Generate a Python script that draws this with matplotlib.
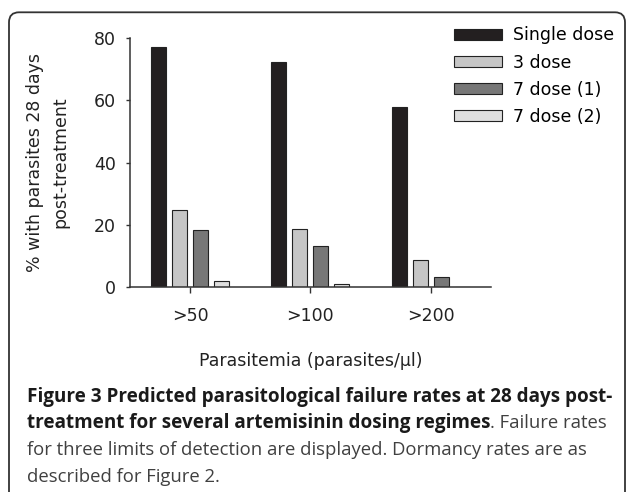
import matplotlib
matplotlib.use("Agg")
import matplotlib.pyplot as plt
import numpy as np
from matplotlib.patches import FancyBboxPatch
from matplotlib.transforms import IdentityTransform

# data
categories = [">50", ">100", ">200"]
series_names = ["Single dose", "3 dose", "7 dose (1)", "7 dose (2)"]
single_dose = [77.1, 72.3, 57.9]
three_dose = [24.7, 18.6, 8.8]
seven_dose_1 = [18.5, 13.3, 3.2]
seven_dose_2 = [2.1, 1.0, 0.2]
bar_colors = ["#231f20", "#c6c6c6", "#777777", "#dedede"]

W, H = 627, 492
fs = 12.5
plt.rcParams["font.family"] = ["DejaVu Sans"]
fig = plt.figure(figsize=(W / 100, H / 100), dpi=100)
ax = fig.add_axes([130 / W, (H - 287.3) / H, (490.7 - 130) / W, (287.3 - 37.7) / H])

x = np.arange(len(categories))
step = 0.175
width = 0.125
for i, (name, vals) in enumerate(zip(series_names, [single_dose, three_dose, seven_dose_1, seven_dose_2])):
    ax.bar(x + (i - 1.5) * step, vals, width, color=bar_colors[i], edgecolor="#222222",
           linewidth=0.8, label=name)

ax.set_xlim(-0.5, 2.5)
ax.set_ylim(0, 80)
ax.set_yticks([0, 20, 40, 60, 80])
ax.set_xticks(x)
ax.set_xticklabels(categories)
for s in ["top", "right"]:
    ax.spines[s].set_visible(False)
for s in ["left", "bottom"]:
    ax.spines[s].set_color("#333333")
    ax.spines[s].set_linewidth(1.1)
ax.tick_params(axis="y", length=3, width=1, color="#333333", pad=7, labelsize=fs, labelcolor="#222222")
ax.tick_params(axis="x", length=4.5, width=1, color="#333333", pad=9.5, labelsize=fs, labelcolor="#222222")

ax.set_xlabel("Parasitemia (parasites/\u03bcl)", fontsize=fs, color="#222222", va="center")
ax.xaxis.set_label_coords(0.5, -0.295)
ax.set_ylabel("% with parasites 28 days\npost-treatment", fontsize=fs, color="#222222",
              linespacing=1.5, va="center")
ax.yaxis.set_label_coords((47.5 - 130) / (490.7 - 130), (287.3 - 162) / 249.6)

leg = fig.legend(loc="upper left", bbox_to_anchor=(454 / W, 1 - 26.5 / H), frameon=False,
                 fontsize=fs, handlelength=2.76, handleheight=0.57, handletextpad=0.63,
                 labelspacing=0.52, borderpad=0, borderaxespad=0)

# rounded frame around the figure (open at the bottom)
fig.patches.append(FancyBboxPatch((9, -30), 616, H - 12.3 + 30,
                                  boxstyle="round,pad=0,rounding_size=10",
                                  transform=IdentityTransform(), fill=False,
                                  edgecolor="#333333", linewidth=1.3))

# caption
cap_x = 27 / W
cap_font = ["Open Sans", "DejaVu Sans"]
bold_size = 13.6
norm_size = 13.3
fig.text(cap_x, 1 - 396.7 / H, "Figure 3 Predicted parasitological failure rates at 28 days post-",
         fontsize=bold_size, fontweight="bold", family=cap_font, color="#1a1a1a", va="center")
t2 = fig.text(cap_x, 1 - 423.3 / H, "treatment for several artemisinin dosing regimes",
              fontsize=bold_size, fontweight="bold", family=cap_font, color="#1a1a1a", va="center")
fig.canvas.draw()
bb = t2.get_window_extent(fig.canvas.get_renderer())
fig.text(bb.x1 / W, 1 - 423.3 / H, ". Failure rates", fontsize=norm_size, family=cap_font,
         color="#404040", va="center")
fig.text(cap_x, 1 - 450 / H, "for three limits of detection are displayed. Dormancy rates are as",
         fontsize=norm_size, family=cap_font, color="#404040", va="center")
fig.text(cap_x, 1 - 476.7 / H, "described for Figure 2.",
         fontsize=norm_size, family=cap_font, color="#404040", va="center")

fig.savefig("out.png", dpi=100)
